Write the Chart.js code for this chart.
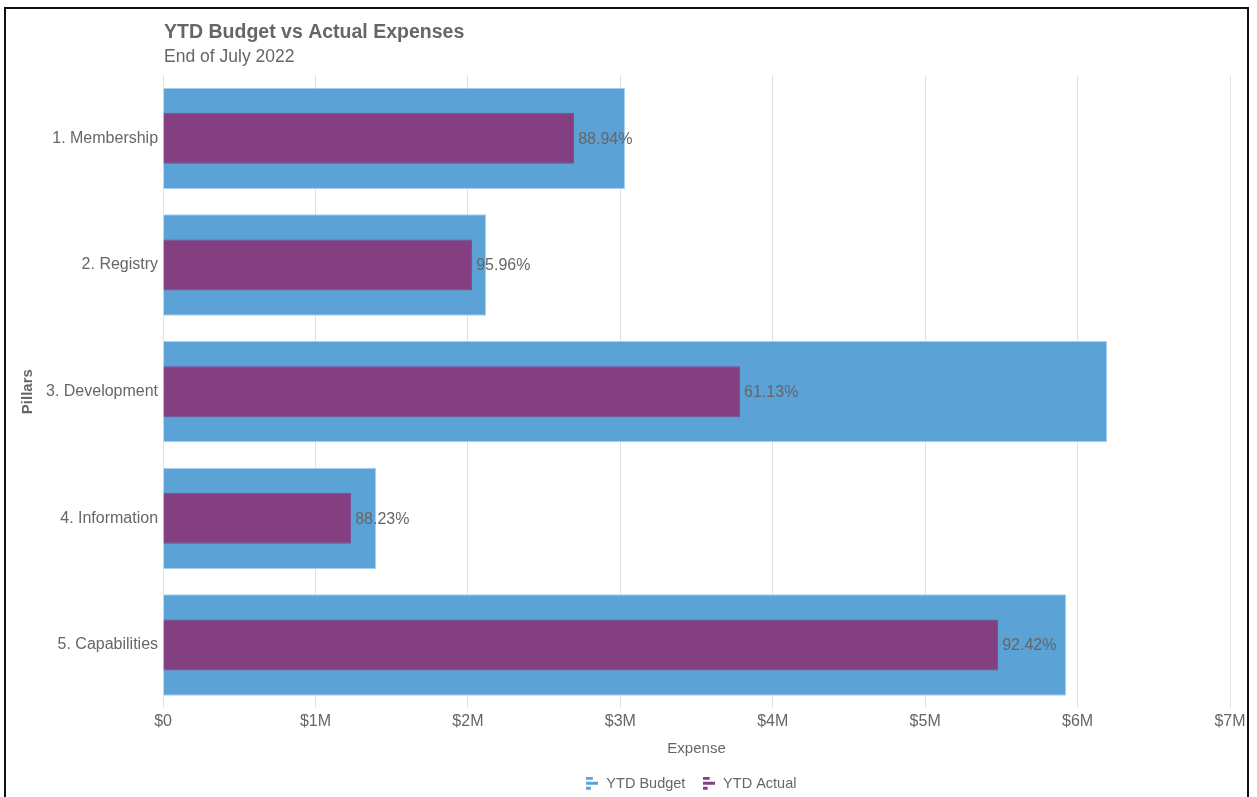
<!DOCTYPE html>
<html>
<head>
<meta charset="utf-8">
<script src="https://cdn.jsdelivr.net/npm/chart.js@4/dist/chart.umd.min.js"></script>
<style>
  html, body { margin: 0; padding: 0; background: #fff; overflow: hidden; }
  #wrap { position: absolute; left: 0; top: 0; width: 1257px; height: 797px; }
  #frame {
    position: absolute; left: 4px; top: 7px; width: 1241px; height: 830px;
    border: 2px solid #111; pointer-events: none;
  }
</style>
</head>
<body>
<div id="wrap"><canvas id="budgetChart" width="1257" height="797"></canvas></div>
<div id="frame"></div>
<script>
const categories = ['1. Membership', '2. Registry', '3. Development', '4. Information', '5. Capabilities'];
const budgetValues = [3031000, 2119000, 6194000, 1398000, 5925000];
const actualValues = [2697000, 2028000, 3786000, 1234000, 5479000];
const pctLabels = ['88.94%', '95.96%', '61.13%', '88.23%', '92.42%'];
const xTickLabels = ['$0', '$1M', '$2M', '$3M', '$4M', '$5M', '$6M', '$7M'];

const BLUE = '#5ba2d6';
const PURPLE = '#843f81';
const GRAY = '#666666';
const FONT = "'Liberation Sans', Arial, Helvetica, sans-serif";

// little bar-chart glyph used as legend marker
function legendIcon(color) {
  const c = document.createElement('canvas');
  c.width = 12;
  c.height = 14;
  const g = c.getContext('2d');
  g.fillStyle = color;
  g.fillRect(0, 0, 7, 3);
  g.fillRect(0, 5, 12, 3);
  g.fillRect(0, 10, 5, 3);
  return c;
}

const headerPlugin = {
  id: 'header',
  afterDraw(chart) {
    const { ctx, chartArea } = chart;
    ctx.save();
    ctx.fillStyle = GRAY;
    ctx.textBaseline = 'middle';
    ctx.textAlign = 'left';
    ctx.font = 'bold 19.5px ' + FONT;
    ctx.fillText('YTD Budget vs Actual Expenses', chartArea.left + 1, 33);
    ctx.font = '17.5px ' + FONT;
    ctx.fillText('End of July 2022', chartArea.left + 1, 57);
    ctx.restore();
  },
};

// center the legend under the plot area instead of the whole canvas
const legendShift = {
  id: 'legendShift',
  afterLayout(chart) {
    const lg = chart.legend;
    const dx = (chart.chartArea.left + chart.chartArea.right) / 2 - chart.width / 2;
    lg.left += dx;
    lg.right += dx;
  },
};

const pctLabelPlugin = {
  id: 'pctLabels',
  afterDatasetsDraw(chart) {
    const meta = chart.getDatasetMeta(1);
    const ctx = chart.ctx;
    ctx.save();
    ctx.fillStyle = GRAY;
    ctx.font = '16px ' + FONT;
    ctx.textAlign = 'left';
    ctx.textBaseline = 'middle';
    meta.data.forEach((bar, i) => {
      ctx.fillText(pctLabels[i], bar.x + 4, bar.y + 1);
    });
    ctx.restore();
  },
};

new Chart(document.getElementById('budgetChart'), {
  type: 'bar',
  data: {
    labels: categories,
    datasets: [
      {
        label: 'YTD Budget',
        data: budgetValues,
        backgroundColor: BLUE,
        borderColor: '#a9d1ef',
        borderWidth: 1,
        grouped: false,
        categoryPercentage: 1,
        barPercentage: 0.8,
        order: 2,
        pointStyle: legendIcon(BLUE),
      },
      {
        label: 'YTD Actual',
        data: actualValues,
        backgroundColor: PURPLE,
        borderColor: '#7d4a92',
        borderWidth: 1,
        grouped: false,
        categoryPercentage: 1,
        barPercentage: 0.403,
        order: 1,
        pointStyle: legendIcon(PURPLE),
      },
    ],
  },
  options: {
    indexAxis: 'y',
    responsive: false,
    animation: false,
    layout: { padding: { top: 75, left: 15, right: 27, bottom: -4 } },
    scales: {
      x: {
        min: 0,
        max: 7000000,
        ticks: {
          stepSize: 1000000,
          color: GRAY,
          font: { family: FONT, size: 16 },
          padding: 4,
          callback: (v, i) => xTickLabels[i],
        },
        grid: { color: '#e2e2e2', drawTicks: false },
        border: { display: false },
        title: {
          display: true,
          text: 'Expense',
          color: GRAY,
          font: { family: FONT, size: 15 },
          padding: { top: 4, bottom: 3 },
        },
      },
      y: {
        ticks: {
          color: GRAY,
          font: { family: FONT, size: 16 },
          padding: 5,
        },
        grid: { display: false, drawTicks: false },
        border: { display: false },
        title: {
          display: true,
          text: 'Pillars',
          color: GRAY,
          font: { family: FONT, size: 15, weight: 'bold' },
          padding: { top: 4, bottom: 4 },
        },
      },
    },
    plugins: {
      title: { display: false },
      tooltip: { enabled: false },
      legend: {
        position: 'bottom',
        labels: {
          usePointStyle: true,
          color: GRAY,
          font: { family: FONT, size: 14.5 },
          padding: 16,
          sort: (a, b) => a.datasetIndex - b.datasetIndex,
        },
      },
    },
  },
  plugins: [headerPlugin, legendShift, pctLabelPlugin],
});
</script>
</body>
</html>
